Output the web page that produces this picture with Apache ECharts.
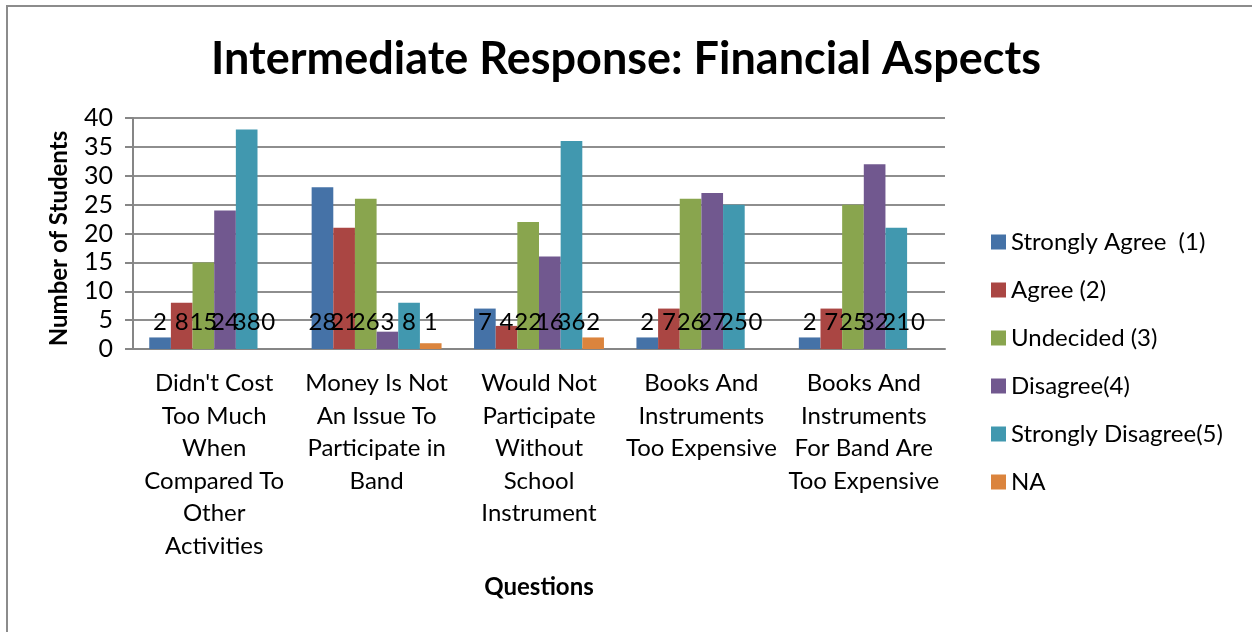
<!DOCTYPE html>
<html>
<head>
<meta charset="utf-8">
<script src="https://cdn.jsdelivr.net/npm/echarts@6/dist/echarts.min.js"></script>
<style>
  html, body { margin: 0; padding: 0; background: #fff; }
  #chart { width: 1252px; height: 632px; }
</style>
</head>
<body>
<div id="chart"></div>
<script>
// Survey questions (x axis categories)
const questions = [
  "Didn't Cost\nToo Much\nWhen\nCompared To\nOther\nActivities",
  "Money Is Not\nAn Issue To\nParticipate in\nBand",
  "Would Not\nParticipate\nWithout\nSchool\nInstrument",
  "Books And\nInstruments\nToo Expensive",
  "Books And\nInstruments\nFor Band Are\nToo Expensive"
];

// Response series names
const responseNames = [
  "Strongly Agree  (1)",
  "Agree (2)",
  "Undecided (3)",
  "Disagree(4)",
  "Strongly Disagree(5)",
  "NA"
];

// Number of students per response, one value per question
const stronglyAgree    = [2, 28, 7, 2, 2];
const agree            = [8, 21, 4, 7, 7];
const undecided        = [15, 26, 22, 26, 25];
const disagree         = [24, 3, 16, 27, 32];
const stronglyDisagree = [38, 8, 36, 25, 21];
const notApplicable    = [0, 1, 2, 0, 0];

const responseValues = [stronglyAgree, agree, undecided, disagree, stronglyDisagree, notApplicable];
const colors = ['#4572A7', '#AA4643', '#89A54E', '#71588F', '#4198AF', '#DB843D'];

const FONT = 'Lato, "Open Sans", sans-serif';

const chart = echarts.init(document.getElementById('chart'), null, { renderer: 'canvas' });

const series = responseNames.map((name, i) => ({
  name: name,
  type: 'bar',
  data: responseValues[i],
  barGap: '0%',
  barCategoryGap: '20%',
  itemStyle: { color: colors[i] },
  label: {
    show: true,
    position: 'insideBottom',
    distance: 15,
    color: '#000',
    fontFamily: FONT,
    fontSize: 24,
    lineHeight: 24
  }
}));

chart.setOption({
  backgroundColor: '#ffffff',
  animation: false,
  color: colors,
  title: {
    text: 'Intermediate Response: Financial Aspects',
    left: 'center',
    top: 32,
    textStyle: {
      fontFamily: FONT,
      fontWeight: 'bold',
      fontSize: 45,
      color: '#000'
    }
  },
  legend: {
    orient: 'vertical',
    left: 986,
    top: 225,
    icon: 'rect',
    itemWidth: 15,
    itemHeight: 15,
    itemGap: 24,
    data: responseNames,
    textStyle: {
      fontFamily: FONT,
      fontSize: 24,
      lineHeight: 20,
      color: '#000'
    }
  },
  grid: {
    left: 133,
    right: 307,
    top: 118,
    bottom: 283,
    containLabel: false
  },
  xAxis: {
    type: 'category',
    data: questions,
    name: 'Questions',
    nameLocation: 'middle',
    nameGap: 226,
    nameTextStyle: {
      fontFamily: FONT,
      fontWeight: 'bold',
      fontSize: 24,
      color: '#000'
    },
    axisLine: { show: true, lineStyle: { color: '#868686', width: 2 } },
    axisTick: { show: false },
    axisLabel: {
      interval: 0,
      margin: 18,
      fontFamily: FONT,
      fontSize: 24,
      lineHeight: 32.6,
      color: '#000',
      align: 'center'
    }
  },
  yAxis: {
    type: 'value',
    min: 0,
    max: 40,
    interval: 5,
    name: 'Number of Students',
    nameLocation: 'middle',
    nameGap: 62,
    nameRotate: 90,
    nameTextStyle: {
      fontFamily: FONT,
      fontWeight: 'bold',
      fontSize: 24,
      color: '#000',
      padding: [0, 10, 0, 0]
    },
    axisLine: { show: true, lineStyle: { color: '#868686', width: 2 } },
    axisTick: { show: true, inside: false, length: 8, lineStyle: { color: '#868686', width: 2 } },
    axisLabel: {
      margin: 20,
      fontFamily: FONT,
      fontSize: 25,
      color: '#000'
    },
    splitLine: { show: true, lineStyle: { color: '#8e8e8e', width: 2 } }
  },
  graphic: [
    // chart frame (top and left edges)
    { type: 'line', shape: { x1: 6, y1: 6, x2: 1252, y2: 6 }, style: { stroke: '#8c8c8c', lineWidth: 2 }, silent: true },
    { type: 'line', shape: { x1: 7, y1: 6, x2: 7, y2: 632 }, style: { stroke: '#8c8c8c', lineWidth: 2 }, silent: true }
  ],
  series: series
});
</script>
</body>
</html>
